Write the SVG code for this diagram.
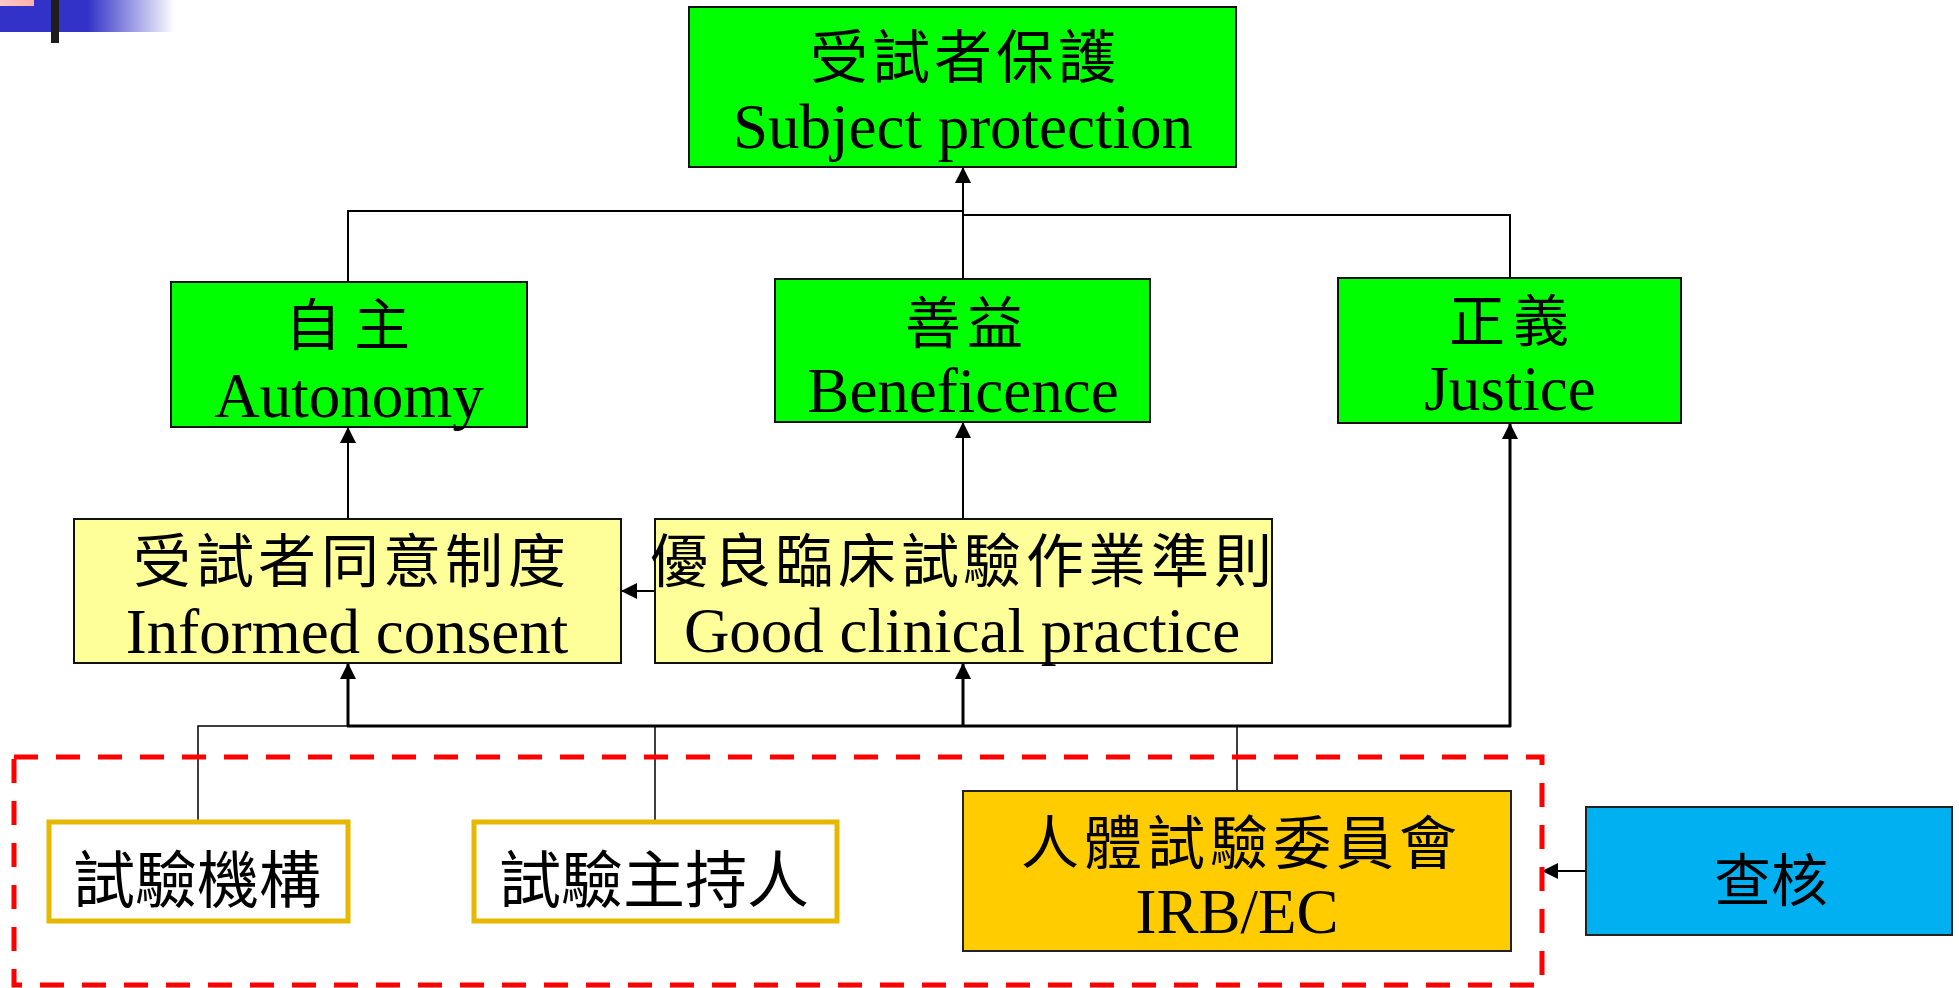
<svg xmlns="http://www.w3.org/2000/svg" width="1959" height="988" viewBox="0 0 1959 988">
<defs>
<linearGradient id="band" x1="0" y1="0" x2="1" y2="0">
<stop offset="0" stop-color="#3232C8"/>
<stop offset="0.5" stop-color="#3232C8"/>
<stop offset="1" stop-color="#3232C8" stop-opacity="0"/>
</linearGradient>
<linearGradient id="pink" x1="0" y1="0" x2="1" y2="0">
<stop offset="0" stop-color="#FFC8C8"/>
<stop offset="1" stop-color="#FFB0A8"/>
</linearGradient>
<marker id="arr" markerUnits="userSpaceOnUse" markerWidth="16" markerHeight="16" viewBox="0 0 16 16" refX="16" refY="8" orient="auto">
<path d="M0,0 L16,8 L0,16 z" fill="#000"/>
</marker>
</defs>
<style>
.g{fill:#00FF00;stroke:#111;stroke-width:2}
.y{fill:#FFFF99;stroke:#111;stroke-width:2}
.w{fill:#fff;stroke:#E6B800;stroke-width:5}
.irb{fill:#FFCC00;stroke:#222;stroke-width:2}
.b{fill:#00B0F0;stroke:#222;stroke-width:2}
.cj{font-family:"Noto Sans CJK TC","Noto Sans CJK SC",sans-serif;fill:#000;text-anchor:middle;dominant-baseline:central}
.en{font-family:"Liberation Serif","Times New Roman",serif;font-size:63px;fill:#000;text-anchor:middle}
.c{fill:none;stroke:#000;stroke-width:2}
.t{fill:none;stroke:#000;stroke-width:1.5}
.k{fill:none;stroke:#000;stroke-width:3}
</style>
<rect x="0" y="0" width="175" height="32" fill="url(#band)"/>
<rect x="0" y="0" width="34" height="6" fill="url(#pink)"/>
<rect x="51" y="0" width="8" height="43" fill="#1E1E1E"/>

<g id="connectors">
<polyline class="c" points="348,282 348,211 963,211"/>
<polyline class="c" points="1510,278 1510,215 963,215"/>
<line class="c" x1="963" y1="279" x2="963" y2="167" marker-end="url(#arr)"/>
<line class="c" x1="348" y1="519" x2="348" y2="427" marker-end="url(#arr)"/>
<line class="c" x1="963" y1="519" x2="963" y2="422" marker-end="url(#arr)"/>
<line class="c" x1="655" y1="591" x2="621" y2="591" marker-end="url(#arr)"/>
<polyline class="t" points="198,822 198,726 348,726"/>
<line class="k" x1="347" y1="726" x2="1511" y2="726"/>
<line class="k" x1="348" y1="726" x2="348" y2="663" marker-end="url(#arr)"/>
<line class="k" x1="963" y1="726" x2="963" y2="663" marker-end="url(#arr)"/>
<line class="k" x1="1510" y1="727" x2="1510" y2="423" marker-end="url(#arr)"/>
<line class="t" x1="655" y1="822" x2="655" y2="726"/>
<line class="t" x1="1237" y1="791" x2="1237" y2="726"/>
<line class="c" x1="1586" y1="871" x2="1542" y2="871" marker-end="url(#arr)"/>
</g>

<rect id="boundary" x="14" y="757" width="1528" height="228" fill="none" stroke="#FF0000" stroke-width="5" stroke-dasharray="24 18"/>

<g id="subject-protection">
<rect class="g" x="689" y="7" width="547" height="160"/>
<text class="cj" font-size="58" x="839 901 963 1025 1087" y="53">受試者保護</text>
<text class="en" x="963" y="148">Subject protection</text>
</g>

<g id="autonomy">
<rect class="g" x="171" y="282" width="356" height="145"/>
<text class="cj" font-size="56" x="313 382" y="320">自主</text>
<text class="en" x="349" y="417">Autonomy</text>
</g>

<g id="beneficence">
<rect class="g" x="775" y="279" width="375" height="143"/>
<text class="cj" font-size="56" x="933 995" y="318">善益</text>
<text class="en" x="963" y="412">Beneficence</text>
</g>

<g id="justice">
<rect class="g" x="1338" y="278" width="343" height="145"/>
<text class="cj" font-size="56" x="1477 1541" y="316">正義</text>
<text class="en" x="1510" y="410">Justice</text>
</g>

<g id="informed-consent">
<rect class="y" x="74" y="519" width="547" height="144"/>
<text class="cj" font-size="58" x="162 225 287 350 412 474 537" y="557">受試者同意制度</text>
<text class="en" x="347" y="653">Informed consent</text>
</g>

<g id="gcp">
<rect class="y" x="655" y="519" width="617" height="144"/>
<text class="cj" font-size="58" x="679 742 804 867 930 992 1055 1117 1180 1243" y="557">優良臨床試驗作業準則</text>
<text class="en" x="962" y="652">Good clinical practice</text>
</g>

<g id="institution">
<rect class="w" x="49" y="822" width="299" height="99"/>
<text class="cj" font-size="62" x="197" y="876">試驗機構</text>
</g>

<g id="investigator">
<rect class="w" x="474" y="822" width="363" height="99"/>
<text class="cj" font-size="62" x="654" y="876">試驗主持人</text>
</g>

<g id="irb">
<rect class="irb" x="963" y="791" width="548" height="160"/>
<text class="cj" font-size="58" x="1050 1113 1176 1239 1302 1365 1428" y="839">人體試驗委員會</text>
<text class="en" x="1237" y="933">IRB/EC</text>
</g>

<g id="audit">
<rect class="b" x="1586" y="807" width="366" height="128"/>
<text class="cj" font-size="57" x="1771" y="876">查核</text>
</g>
</svg>
